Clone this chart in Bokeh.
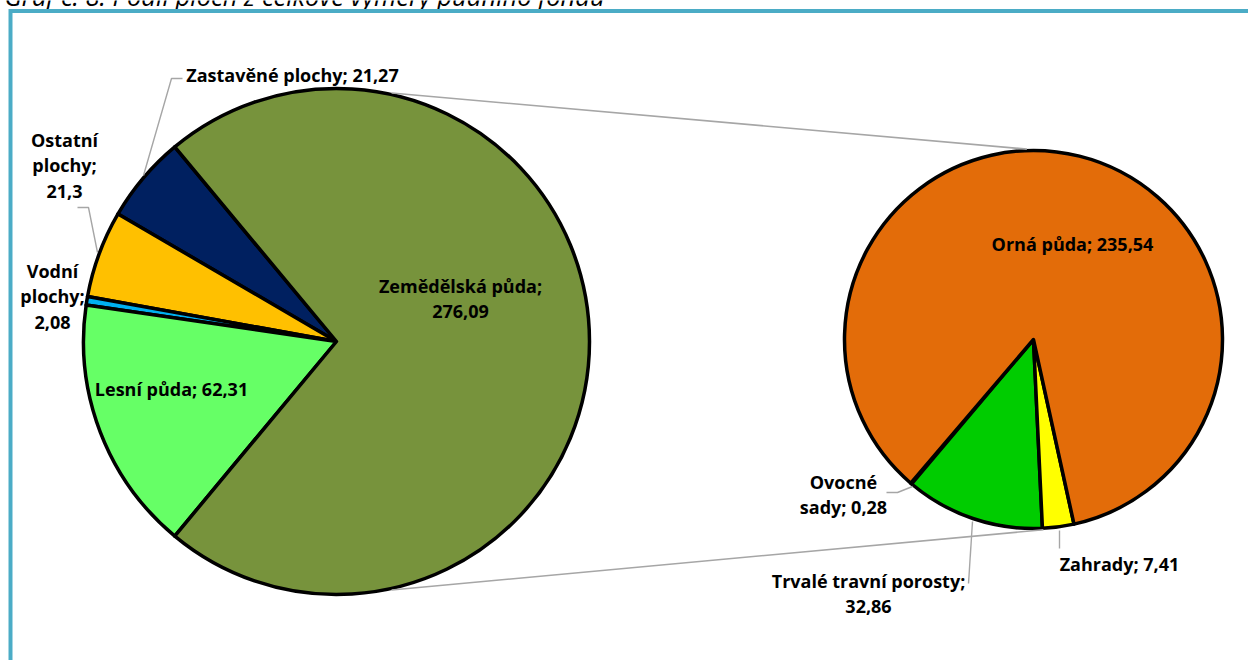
import numpy as np
from bokeh.plotting import figure
from bokeh.models import Range1d
from bokeh.core.properties import value
from bokeh.embed import file_html
from bokeh.resources import INLINE

# ---------------- data ----------------
title = "Graf č. 8: Podíl ploch z celkové výměry půdního fondu"

main_labels = ["Zastavěné plochy", "Ostatní plochy", "Vodní plochy", "Lesní půda", "Zemědělská půda"]
main_values = [21.27, 21.3, 2.08, 62.31, 276.09]
main_colors = ["#002060", "#FFC000", "#00B0F0", "#66FF66", "#77933C"]

sub_labels = ["Ovocné sady", "Trvalé travní porosty", "Zahrady", "Orná půda"]
sub_values = [0.28, 32.86, 7.41, 235.54]
sub_colors = ["#C0504D", "#00CC00", "#FFFF00", "#E36C09"]

# ---------------- layout (reference pixel coordinates) ----------------
W, H = 1248, 660


def Y(py):
    return H - py


main_c = (336, 341)
main_r = 253
sub_c = (1033, 339)
sub_r = 189
sub_start = 229.5  # degrees

# label centre positions and how words are split into lines
main_lab_pos = {
    "Zastavěné plochy": (292, 74, [4]),
    "Ostatní plochy": (64, 165, [1, 1, 1]),
    "Vodní plochy": (52, 296, [1, 1, 1]),
    "Lesní půda": (171, 388, [4]),
    "Zemědělská půda": (460, 298, [2, 1]),
}
sub_lab_pos = {
    "Orná půda": (1072, 243, [4]),
    "Trvalé travní porosty": (868, 593, [3, 1]),
    "Zahrady": (1119, 563, [2]),
    "Ovocné sady": (843, 494, [1, 2]),
}
leaders = [
    [(182, 78), (171, 78), (143, 175)],
    [(77, 207), (88, 207), (97, 252)],
    [(886, 492), (897, 492), (912, 486)],
    [(968, 583), (972, 521)],
    [(1059, 548), (1059, 530)],
]


def fmt(v):
    return f"{v:g}".replace(".", ",")


def make_text(name, v, groups):
    toks = f"{name}; {fmt(v)}".split(" ")
    lines, i = [], 0
    for g in groups:
        lines.append(" ".join(toks[i:i + g]))
        i += g
    return "\n".join(l for l in lines if l)


p = figure(width=W, height=H, x_range=Range1d(0, W), y_range=Range1d(0, H),
           x_axis_location=None, y_axis_location=None, toolbar_location=None,
           output_backend="svg", min_border=0, outline_line_color=None,
           background_fill_color="white")
p.grid.visible = False

# title (its top is cut off by the page edge, as in the reference)
p.text(x=[4], y=[Y(-5)], text=[title], text_align="left", text_baseline="alphabetic",
       text_font=value("Open Sans"), text_font_style="italic", text_font_size=value("25.5px"),
       text_color="black")

# chart border (left and top visible)
p.line([10, 10, 1300], [Y(700), Y(10.5), Y(10.5)], line_color="#4BACC6", line_width=4,
       line_join="miter")


def wedges(center, r, vals, colors, start):
    total = sum(vals)
    angs = np.array(vals) / total * 360.0
    ends = start + np.cumsum(angs)
    starts = ends - angs
    p.wedge(x=[center[0]] * len(vals), y=[Y(center[1])] * len(vals), radius=r,
            start_angle=list(np.deg2rad(starts)), end_angle=list(np.deg2rad(ends)),
            direction="anticlock", fill_color=colors, line_color="black",
            line_width=3.5, line_join="round")
    return starts, ends


m_tot_other = sum(main_values[:-1]) / sum(main_values) * 360.0
main_start = 180.0 - m_tot_other / 2
wedges(main_c, main_r, main_values, main_colors, main_start)
wedges(sub_c, sub_r, sub_values, sub_colors, sub_start)


# connector lines between the pies
def pt(center, r, a):
    a = np.deg2rad(a)
    return center[0] + (r + 1.5) * np.cos(a), Y(center[1]) + (r + 1.5) * np.sin(a)


for am, as_ in [(77.5, 92.0), (-77.5, -87.0)]:
    x0, y0 = pt(main_c, main_r, am)
    x1, y1 = pt(sub_c, sub_r, as_)
    p.line([x0, x1], [y0, y1], line_color="#A6A6A6", line_width=1.6)

# leader lines
for pl in leaders:
    p.line([q[0] for q in pl], [Y(q[1]) for q in pl], line_color="#A6A6A6", line_width=1.4)

# labels
tx, ty, tt = [], [], []
for name, v in zip(main_labels, main_values):
    x, y, g = main_lab_pos[name]
    tx.append(x); ty.append(Y(y)); tt.append(make_text(name, v, g))
for name, v in zip(sub_labels, sub_values):
    x, y, g = sub_lab_pos[name]
    tx.append(x); ty.append(Y(y)); tt.append(make_text(name, v, g))

p.text(x=tx, y=ty, text=tt, text_align="center", text_baseline="middle",
       text_font=value("Open Sans"), text_font_style="bold", text_font_size=value("18px"),
       text_line_height=1.06, text_color="black")

open("out.html", "w").write(file_html(p, INLINE))
